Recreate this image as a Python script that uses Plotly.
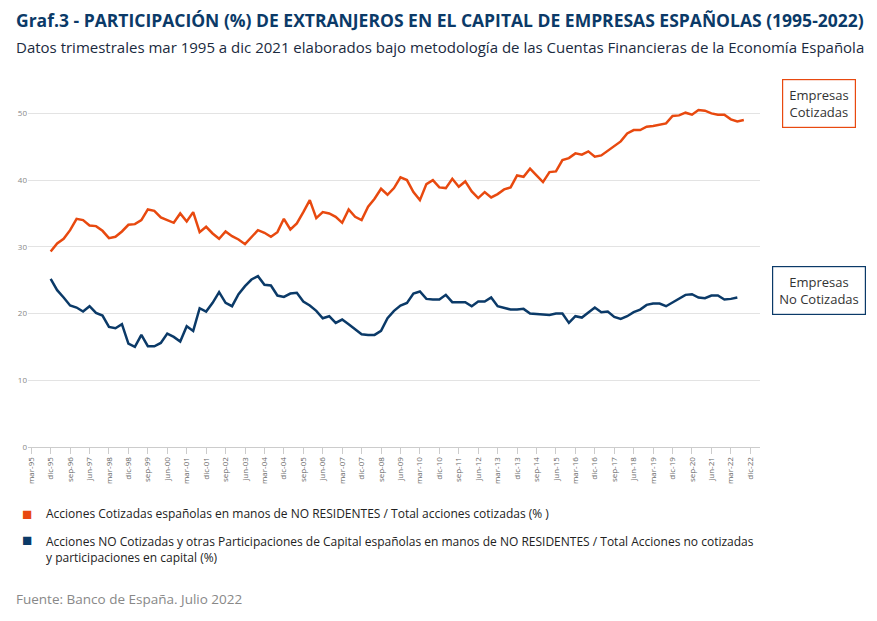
import plotly.graph_objects as go

labels = ["mar-95","dic-95","sep-96","jun-97","mar-98","dic-98","sep-99","jun-00","mar-01","dic-01","sep-02","jun-03","mar-04","dic-04","sep-05","jun-06","mar-07","dic-07","sep-08","jun-09","mar-10","dic-10","sep-11","jun-12","mar-13","dic-13","sep-14","jun-15","mar-16","dic-16","sep-17","jun-18","mar-19","dic-19","sep-20","jun-21","mar-22","dic-22"]

cotizadas = [29.3,30.5,31.2,32.5,34.2,34.0,33.2,33.1,32.4,31.3,31.5,32.3,33.3,33.4,34.0,35.6,35.4,34.4,34.0,33.6,35.0,33.8,35.2,32.2,33.0,32.0,31.2,32.3,31.6,31.1,30.4,31.5,32.5,32.1,31.5,32.2,34.2,32.6,33.5,35.2,37.0,34.3,35.2,35.0,34.5,33.6,35.6,34.5,34.0,36.0,37.2,38.7,37.8,38.8,40.4,40.0,38.2,37.0,39.4,40.0,38.9,38.8,40.2,39.0,
             39.8,38.3,37.3,38.2,37.4,37.9,38.6,38.9,40.7,40.5,41.7,40.7,39.7,41.2,41.3,43.0,43.3,44.0,43.8,44.3,43.5,43.7,44.4,45.2,45.8,47.0,47.5,47.5,48.0,48.1,48.3,48.5,49.6,49.7,50.1,49.8,50.5,50.4,50.0,49.8,49.8,49.1,48.8,49.0]
no_cotizadas = [25.2,23.5,22.4,21.2,20.9,20.3,21.1,20.1,19.7,18.0,17.8,18.4,15.5,15.0,16.8,15.1,15.1,15.6,17.0,16.5,15.8,18.1,17.4,20.8,20.3,21.6,23.2,21.6,21.1,22.9,24.1,25.1,25.6,24.3,24.2,22.7,22.5,23.0,23.1,21.8,21.2,20.4,19.3,19.6,18.6,19.1,18.4,17.7,16.9,16.8,16.8,17.4,19.3,20.4,21.2,21.6,23.0,23.3,22.2,22.1,22.1,22.8,21.7,21.7,
                21.7,21.1,21.8,21.8,22.4,21.1,20.8,20.6,20.6,20.7,20.0,19.9,19.9,19.8,20.0,20.0,18.6,19.6,19.4,20.2,20.9,20.2,20.3,19.5,19.2,19.6,20.2,20.6,21.3,21.5,21.5,21.1,21.7,22.3,22.8,22.9,22.4,22.3,22.7,22.7,22.1,22.2,22.4]

start = 3
xs_c = list(range(start, start + len(cotizadas)))
xs_n = list(range(start, start + len(no_cotizadas)))
tickvals = [i * 3 for i in range(len(labels))]

ORANGE = "#E8490F"
NAVY = "#0B3A68"
L, R, T, B = 10, 125, 72, 182
fig = go.Figure()
fig.add_trace(go.Scatter(x=xs_c, y=cotizadas, mode="lines", line=dict(color=ORANGE, width=2.5), showlegend=False))
fig.add_trace(go.Scatter(x=xs_n, y=no_cotizadas, mode="lines", line=dict(color=NAVY, width=2.5), showlegend=False))

fig.update_layout(
    width=877, height=621, plot_bgcolor="white", paper_bgcolor="white",
    margin=dict(l=L, r=R, t=T, b=B),
    font=dict(family="Open Sans", color="#333"),
    xaxis=dict(range=[-0.5, 112.5], tickvals=tickvals, ticktext=labels, tickangle=-90,
               tickfont=dict(size=8, color="#666"), showgrid=False, ticks="outside",
               ticklen=6, tickcolor="#ccc", showline=True, linecolor="#ccc", zeroline=False),
    yaxis=dict(range=[0, 55], tickvals=[0, 10, 20, 30, 40, 50], tickfont=dict(size=8, color="#888"),
               gridcolor="#e3e3e3", zeroline=False, showline=False),
)

def ca(xpx, ypx, text, size, color, xanchor="left", yanchor="middle", **kw):
    # reference pixel coords (page has 8px offset) -> paper coordinates of plot area
    xpx -= 8; ypx -= 8
    pw = 877 - L - R; ph = 621 - T - B
    fig.add_annotation(x=(xpx - L) / pw, y=(621 - B - ypx) / ph, xref="paper", yref="paper",
                       text=text, showarrow=False, xanchor=xanchor, yanchor=yanchor,
                       font=dict(size=size, color=color, family="Open Sans"), **kw)

ca(4, 20, "<b>Graf.3 - PARTICIPACIÓN (%) DE EXTRANJEROS EN EL CAPITAL DE EMPRESAS ESPAÑOLAS (1995-2022)</b>", 17.5, NAVY)
ca(4, 47, "Datos trimestrales mar 1995 a dic 2021 elaborados bajo metodología de las Cuentas Financieras de la Economía Española", 15, "#1a2a40")
ca(820, 104, "Empresas<br>Cotizadas", 13, "#333", xanchor="center", bordercolor=ORANGE, borderwidth=1.2, borderpad=6, bgcolor="white")
ca(820, 290, "Empresas<br>No Cotizadas", 13, "#333", xanchor="center", bordercolor=NAVY, borderwidth=1.2, borderpad=6, bgcolor="white")
ca(10, 514, "■", 17, ORANGE)
ca(34, 514, "Acciones Cotizadas españolas en manos de NO RESIDENTES / Total acciones cotizadas (% )", 12, "#222")
ca(10, 539, "■", 17, NAVY)
ca(34, 549, "Acciones NO Cotizadas y otras Participaciones de Capital españolas en manos de NO RESIDENTES / Total Acciones no cotizadas<br>y participaciones en capital (%)", 12, "#222", align="left")
ca(4, 599, "Fuente: Banco de España. Julio 2022", 13.5, "#888")

fig.write_html("out.html")
